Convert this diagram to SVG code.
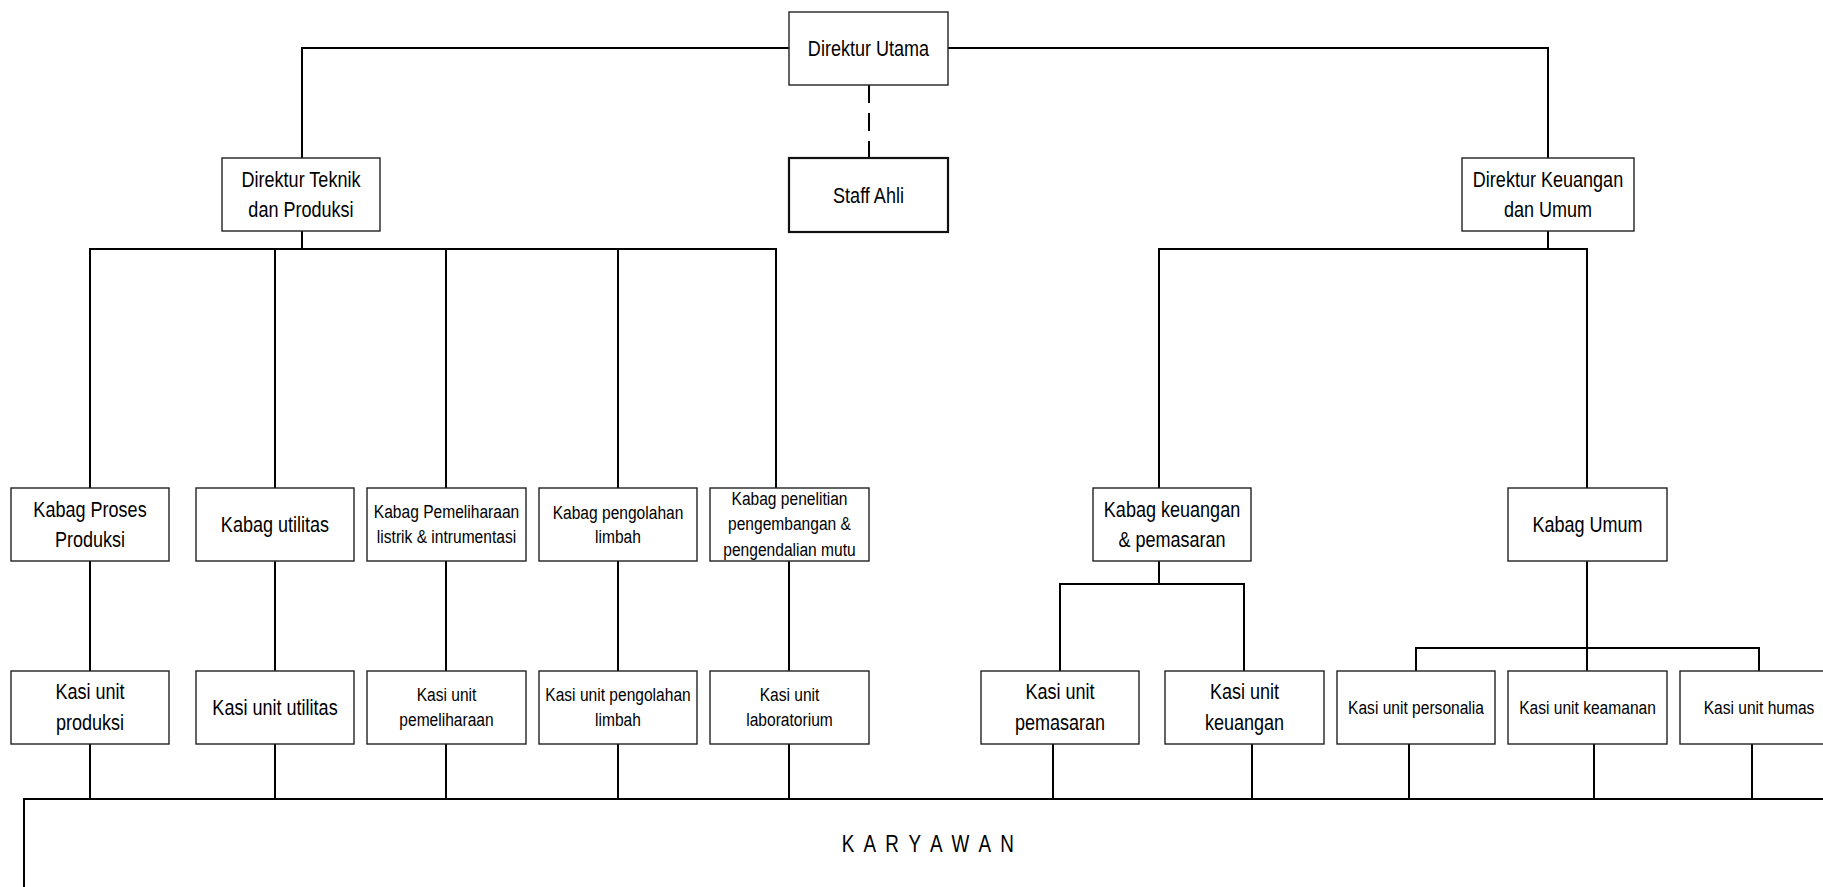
<svg xmlns="http://www.w3.org/2000/svg" width="1823" height="887" viewBox="0 0 1823 887">
<style>
.b{fill:#fff;stroke:#222;stroke-width:1.4}
.bt{fill:#fff;stroke:#111;stroke-width:2.2}
.l{fill:none;stroke:#000;stroke-width:2}
.d{fill:none;stroke:#000;stroke-width:2;stroke-dasharray:18 10}
text{font-family:"Liberation Sans",Arial,sans-serif;fill:#000;text-anchor:middle}
.t22{font-size:22px}
.t19{font-size:19px}
.kw{font-size:23px;letter-spacing:3px}
</style>
<rect width="1823" height="887" fill="#fff"/>
<g id="connectors">
<polyline class="l" points="789,48 302,48 302,158"/>
<polyline class="l" points="948,48 1548,48 1548,158"/>
<line class="d" x1="869" y1="85" x2="869" y2="158"/>
<line class="l" x1="302" y1="231" x2="302" y2="249"/>
<line class="l" x1="89" y1="249" x2="777" y2="249"/>
<line class="l" x1="90" y1="249" x2="90" y2="488"/>
<line class="l" x1="275" y1="249" x2="275" y2="488"/>
<line class="l" x1="446" y1="249" x2="446" y2="488"/>
<line class="l" x1="618" y1="249" x2="618" y2="488"/>
<line class="l" x1="776" y1="249" x2="776" y2="488"/>
<line class="l" x1="90" y1="561" x2="90" y2="671"/>
<line class="l" x1="275" y1="561" x2="275" y2="671"/>
<line class="l" x1="446" y1="561" x2="446" y2="671"/>
<line class="l" x1="618" y1="561" x2="618" y2="671"/>
<line class="l" x1="789" y1="561" x2="789" y2="671"/>
<line class="l" x1="1548" y1="231" x2="1548" y2="249"/>
<line class="l" x1="1158" y1="249" x2="1588" y2="249"/>
<line class="l" x1="1159" y1="249" x2="1159" y2="488"/>
<line class="l" x1="1587" y1="249" x2="1587" y2="488"/>
<line class="l" x1="1159" y1="561" x2="1159" y2="584"/>
<polyline class="l" points="1060,671 1060,584 1244,584 1244,671"/>
<line class="l" x1="1587" y1="561" x2="1587" y2="671"/>
<polyline class="l" points="1416,671 1416,648 1759,648 1759,671"/>
<line class="l" x1="90" y1="744" x2="90" y2="799"/>
<line class="l" x1="275" y1="744" x2="275" y2="799"/>
<line class="l" x1="446" y1="744" x2="446" y2="799"/>
<line class="l" x1="618" y1="744" x2="618" y2="799"/>
<line class="l" x1="789" y1="744" x2="789" y2="799"/>
<line class="l" x1="1053" y1="744" x2="1053" y2="799"/>
<line class="l" x1="1252" y1="744" x2="1252" y2="799"/>
<line class="l" x1="1409" y1="744" x2="1409" y2="799"/>
<line class="l" x1="1594" y1="744" x2="1594" y2="799"/>
<line class="l" x1="1752" y1="744" x2="1752" y2="799"/>
<polyline class="l" points="24,887 24,799 1823,799"/>
</g>
<g id="direktur-utama"><rect class="b" x="789" y="12" width="159" height="73"/><text class="t22" transform="matrix(0.82 0 0 1 868.5 0)" y="56">Direktur Utama</text></g>
<g id="staff-ahli"><rect class="bt" x="789" y="158" width="159" height="74"/><text class="t22" transform="matrix(0.82 0 0 1 868.5 0)" y="203">Staff Ahli</text></g>
<g id="direktur-teknik"><rect class="b" x="222" y="158" width="158" height="73"/><g transform="matrix(0.82 0 0 1 301 0)"><text class="t22" y="187">Direktur Teknik</text><text class="t22" y="217">dan Produksi</text></g></g>
<g id="direktur-keuangan"><rect class="b" x="1462" y="158" width="172" height="73"/><g transform="matrix(0.82 0 0 1 1548 0)"><text class="t22" y="187">Direktur Keuangan</text><text class="t22" y="217">dan Umum</text></g></g>
<g id="kabag-proses"><rect class="b" x="11" y="488" width="158" height="73"/><g transform="matrix(0.82 0 0 1 90 0)"><text class="t22" y="517">Kabag Proses</text><text class="t22" y="547">Produksi</text></g></g>
<g id="kabag-utilitas"><rect class="b" x="196" y="488" width="158" height="73"/><text class="t22" transform="matrix(0.82 0 0 1 275 0)" y="532">Kabag utilitas</text></g>
<g id="kabag-pemeliharaan"><rect class="b" x="367" y="488" width="159" height="73"/><g transform="matrix(0.82 0 0 1 446.5 0)"><text class="t19" y="518">Kabag Pemeliharaan</text><text class="t19" y="543">listrik &amp; intrumentasi</text></g></g>
<g id="kabag-pengolahan"><rect class="b" x="539" y="488" width="158" height="73"/><g transform="matrix(0.82 0 0 1 618 0)"><text class="t19" y="519">Kabag pengolahan</text><text class="t19" y="543">limbah</text></g></g>
<g id="kabag-penelitian"><rect class="b" x="710" y="488" width="159" height="73"/><g transform="matrix(0.82 0 0 1 789.5 0)"><text class="t19" y="505">Kabag penelitian</text><text class="t19" y="530.5">pengembangan &amp;</text><text class="t19" y="556">pengendalian mutu</text></g></g>
<g id="kabag-keuangan"><rect class="b" x="1093" y="488" width="158" height="73"/><g transform="matrix(0.82 0 0 1 1172 0)"><text class="t22" y="517">Kabag keuangan</text><text class="t22" y="547">&amp; pemasaran</text></g></g>
<g id="kabag-umum"><rect class="b" x="1508" y="488" width="159" height="73"/><text class="t22" transform="matrix(0.82 0 0 1 1587.5 0)" y="532">Kabag Umum</text></g>
<g id="kasi-produksi"><rect class="b" x="11" y="671" width="158" height="73"/><g transform="matrix(0.82 0 0 1 90 0)"><text class="t22" y="699">Kasi unit</text><text class="t22" y="730">produksi</text></g></g>
<g id="kasi-utilitas"><rect class="b" x="196" y="671" width="158" height="73"/><text class="t22" transform="matrix(0.82 0 0 1 275 0)" y="715">Kasi unit utilitas</text></g>
<g id="kasi-pemeliharaan"><rect class="b" x="367" y="671" width="159" height="73"/><g transform="matrix(0.82 0 0 1 446.5 0)"><text class="t19" y="701">Kasi unit</text><text class="t19" y="726">pemeliharaan</text></g></g>
<g id="kasi-pengolahan"><rect class="b" x="539" y="671" width="158" height="73"/><g transform="matrix(0.82 0 0 1 618 0)"><text class="t19" y="701">Kasi unit pengolahan</text><text class="t19" y="726">limbah</text></g></g>
<g id="kasi-laboratorium"><rect class="b" x="710" y="671" width="159" height="73"/><g transform="matrix(0.82 0 0 1 789.5 0)"><text class="t19" y="701">Kasi unit</text><text class="t19" y="726">laboratorium</text></g></g>
<g id="kasi-pemasaran"><rect class="b" x="981" y="671" width="158" height="73"/><g transform="matrix(0.82 0 0 1 1060 0)"><text class="t22" y="699">Kasi unit</text><text class="t22" y="730">pemasaran</text></g></g>
<g id="kasi-keuangan"><rect class="b" x="1165" y="671" width="159" height="73"/><g transform="matrix(0.82 0 0 1 1244.5 0)"><text class="t22" y="699">Kasi unit</text><text class="t22" y="730">keuangan</text></g></g>
<g id="kasi-personalia"><rect class="b" x="1337" y="671" width="158" height="73"/><text class="t19" transform="matrix(0.82 0 0 1 1416 0)" y="714">Kasi unit personalia</text></g>
<g id="kasi-keamanan"><rect class="b" x="1508" y="671" width="159" height="73"/><text class="t19" transform="matrix(0.82 0 0 1 1587.5 0)" y="714">Kasi unit keamanan</text></g>
<g id="kasi-humas"><rect class="b" x="1680" y="671" width="158" height="73"/><text class="t19" transform="matrix(0.82 0 0 1 1759 0)" y="714">Kasi unit humas</text></g>
<g id="karyawan"><text class="kw" transform="matrix(0.82 0 0 1 929 0)" y="852">K A R Y A W A N</text></g>
</svg>
